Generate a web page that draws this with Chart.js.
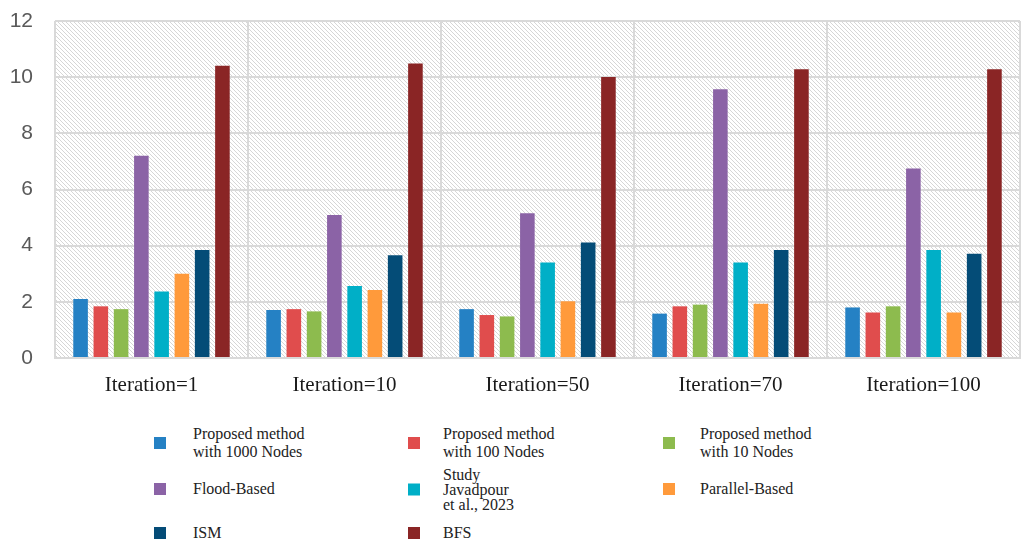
<!DOCTYPE html>
<html>
<head>
<meta charset="utf-8">
<script src="https://cdn.jsdelivr.net/npm/chart.js@4/dist/chart.umd.min.js"></script>
<style>
  html, body { margin: 0; padding: 0; background: #fff; }
  #wrap { position: relative; width: 1022px; height: 541px; overflow: hidden; }
  #chartBox { position: absolute; left: 0; top: 0; width: 1022px; height: 400px; }
  .leg { position: absolute; display: flex; align-items: center; transform: translateY(-50%);
         font-family: "Liberation Serif", "Times New Roman", serif; font-size: 16px; color: #222; }
  .leg .sw { width: 12px; height: 12px; flex: none; }
  .leg .tx { white-space: pre-line; line-height: 18px; }
  .leg .tx.tight { line-height: 15px; }
</style>
</head>
<body>
<div id="wrap">
  <div id="chartBox"><canvas id="chart"></canvas></div>
</div>
<script>
  // --- DATA ---
  const categories = ["Iteration=1", "Iteration=10", "Iteration=50", "Iteration=70", "Iteration=100"];
  const yTicks = [0, 2, 4, 6, 8, 10, 12];

  const proposed1000 = [2.10, 1.71, 1.74, 1.58, 1.80];
  const proposed100  = [1.84, 1.74, 1.53, 1.84, 1.62];
  const proposed10   = [1.74, 1.66, 1.48, 1.90, 1.84];
  const floodBased   = [7.20, 5.09, 5.15, 9.57, 6.75];
  const javadpour    = [2.37, 2.56, 3.40, 3.40, 3.85];
  const parallelBased = [3.00, 2.42, 2.02, 1.93, 1.62];
  const ism          = [3.85, 3.66, 4.11, 3.85, 3.71];
  const bfs          = [10.41, 10.49, 10.01, 10.28, 10.28];

  const seriesLabels = [
    "Proposed method\nwith 1000 Nodes",
    "Proposed method\nwith 100 Nodes",
    "Proposed method\nwith 10 Nodes",
    "Flood-Based",
    "Study\nJavadpour\net al., 2023",
    "Parallel-Based",
    "ISM",
    "BFS"
  ];
  const seriesValues = [proposed1000, proposed100, proposed10, floodBased, javadpour, parallelBased, ism, bfs];
  const seriesColors = ["#2581c4", "#e04d4d", "#8dbb4e", "#8b63a6", "#00afc7", "#ff9a3b", "#044c77", "#8a2525"];

  // --- HATCHED PLOT BACKGROUND ---
  const makeHatch = () => {
    const s = 4;
    const c = document.createElement("canvas");
    c.width = s; c.height = s;
    const g = c.getContext("2d");
    g.fillStyle = "#ffffff";
    g.fillRect(0, 0, s, s);
    g.strokeStyle = "#d6d6d6";
    g.lineWidth = 1;
    g.beginPath();
    g.moveTo(-1, -1); g.lineTo(s + 1, s + 1);
    g.moveTo(s - 1, -1); g.lineTo(s + 1, 1);
    g.moveTo(-1, s - 1); g.lineTo(1, s + 1);
    g.stroke();
    return c;
  };

  const hatchBg = {
    id: "hatchBg",
    beforeDraw(chart) {
      const { ctx, chartArea: a } = chart;
      ctx.save();
      ctx.fillStyle = ctx.createPattern(makeHatch(), "repeat");
      ctx.fillRect(a.left, a.top, a.right - a.left, a.bottom - a.top);
      ctx.restore();
    }
  };

  // --- CHART ---
  const ctx = document.getElementById("chart").getContext("2d");
  new Chart(ctx, {
    type: "bar",
    data: {
      labels: categories,
      datasets: seriesValues.map((vals, i) => ({
        label: seriesLabels[i].replace(/\n/g, " "),
        data: vals,
        backgroundColor: seriesColors[i],
        borderWidth: 0,
        categoryPercentage: 0.84,
        barPercentage: 0.72
      }))
    },
    options: {
      responsive: true,
      maintainAspectRatio: false,
      animation: false,
      layout: { padding: { top: 21, right: 2, left: 0, bottom: 0 } },
      plugins: { legend: { display: false }, tooltip: { enabled: false } },
      scales: {
        x: {
          grid: { color: "#d9d9d9", lineWidth: 2, drawTicks: false, offset: true },
          border: { color: "#d9d9d9", width: 2 },
          ticks: {
            color: "#1a1a1a",
            padding: 15,
            font: { family: "'Liberation Serif', 'Times New Roman', serif", size: 21 }
          },
          afterFit: (s) => { s.height = 42; }
        },
        y: {
          min: 0,
          max: 12,
          afterBuildTicks: (s) => { s.ticks = yTicks.map(v => ({ value: v })); },
          grid: { color: "#d9d9d9", lineWidth: 2, drawTicks: false },
          border: { display: false },
          ticks: {
            color: "#595959",
            padding: 22,
            font: { family: "'Liberation Sans', Arial, sans-serif", size: 21 }
          },
          // fixed axis width; tick padding must not push the plot top down
          afterFit: (s) => { s.width = 55; s.paddingTop = 0; s.paddingBottom = 0; }
        }
      }
    },
    plugins: [hatchBg]
  });

  // --- LEGEND (3-column grid under the plot) ---
  const legCols = [154, 408, 663];
  const legRows = [443, 489, 533];
  const textGap = [39, 35, 37];
  const wrap = document.getElementById("wrap");
  seriesLabels.forEach((lab, i) => {
    const col = i % 3, row = Math.floor(i / 3);
    const item = document.createElement("div");
    item.className = "leg";
    item.style.left = legCols[col] + "px";
    item.style.top = legRows[row] + "px";
    const sw = document.createElement("div");
    sw.className = "sw";
    sw.style.background = seriesColors[i];
    sw.style.marginRight = (textGap[col] - 12) + "px";
    const tx = document.createElement("div");
    tx.className = "tx" + (lab.split("\n").length > 2 ? " tight" : "");
    tx.textContent = lab;
    item.appendChild(sw);
    item.appendChild(tx);
    wrap.appendChild(item);
  });
</script>
</body>
</html>
